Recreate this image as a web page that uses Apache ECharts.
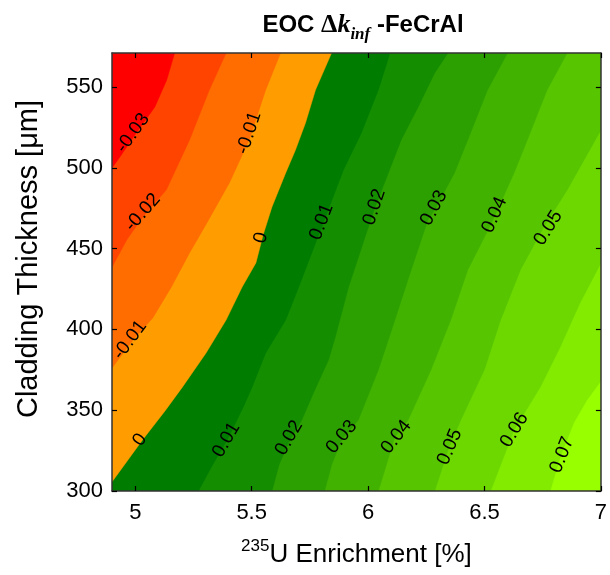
<!DOCTYPE html>
<html><head><meta charset="utf-8">
<script src="https://cdn.jsdelivr.net/npm/echarts@6/dist/echarts.min.js"></script>
<style>html,body{margin:0;padding:0;background:#fff}#c{width:610px;height:575px}</style>
</head><body><div id="c"></div><script>
// ---- data ----
const xRange = [4.9, 7];
const yRange = [300, 571];
const xTicks = [5, 5.5, 6, 6.5, 7];
const yTicks = [300, 350, 400, 450, 500, 550];
const levels = [-0.03, -0.02, -0.01, 0, 0.01, 0.02, 0.03, 0.04, 0.05, 0.06, 0.07];
// band colours: below -0.03, then each band up to above 0.07
const bandColors = ['#ff0000', '#ff4400', '#ff6c00', '#ff9d00', '#007c00', '#158d00', '#2ca000',
  '#42b200', '#57c500', '#6cd800', '#82eb00', '#98ff00'];
// contour lines (enrichment %, thickness um), from top/right edge to left/bottom edge
const cM003 = [[5.169,571],[5.135,554.3],[5.084,537.6],[4.998,520.3],[4.934,506.7],[4.900,499.9]];
const cM002 = [[5.390,571],[5.318,548.1],[5.233,517.2],[5.133,486.3],[5.032,469.6],[4.963,455.3],[4.900,438.6]];
const cM001 = [[5.624,571],[5.560,548.1],[5.489,517.2],[5.404,490.6],[5.310,466.5],[5.233,447.3],[5.155,426.2],[5.075,407.0],[4.990,393.4],[4.900,376.1]];
const c000 = [[5.843,571],[5.774,548.1],[5.731,527.7],[5.688,511.0],[5.646,496.8],[5.587,475.7],[5.549,458.4],[5.518,441.1],[5.459,426.2],[5.390,405.8],[5.304,385.4],[5.203,364.4],[5.130,350],[5.031,331.6],[4.906,306.8],[4.900,305.8]];
const c001 = [[6.094,571],[6.044,548.1],[5.971,521.5],[5.894,498.6],[5.809,466.5],[5.758,447.3],[5.702,426.2],[5.646,405.8],[5.560,385.4],[5.502,364.4],[5.468,353.2],[5.395,331.6],[5.327,314.9],[5.271,300]];
const c002 = [[6.343,571],[6.286,558.7],[6.215,537.6],[6.142,517.2],[6.087,496.8],[6.030,475.7],[5.987,457.2],[5.916,426.2],[5.859,395.3],[5.830,381.1],[5.771,362.5],[5.715,343.9],[5.660,330.3],[5.617,316.1],[5.587,300]];
const c003 = [[6.599,571],[6.513,548.1],[6.428,517.2],[6.371,496.8],[6.286,473.9],[6.257,467.7],[6.185,436.8],[6.115,405.8],[6.044,374.9],[5.958,343.9],[5.886,331.6],[5.843,316.1],[5.813,300]];
const c004 = [[6.855,571],[6.769,548.1],[6.684,517.2],[6.627,496.8],[6.542,469.6],[6.526,464.6],[6.428,436.8],[6.355,405.8],[6.270,374.9],[6.172,343.9],[6.115,333.4],[6.044,300]];
const c005 = [[7.0,523.4],[6.855,486.3],[6.752,462.7],[6.654,436.8],[6.569,405.8],[6.499,374.9],[6.398,343.9],[6.343,325.4],[6.286,300]];
const c006 = [[7.0,441.1],[6.910,416.3],[6.825,389.1],[6.740,364.4],[6.627,337.7],[6.526,300]];
const c007 = [[7.0,368.1],[6.940,356.3],[6.883,342.1],[6.825,321],[6.782,300]];
const contourLines = [cM003, cM002, cM001, c000, c001, c002, c003, c004, c005, c006, c007];
// contour labels: position and level index
const labelX = [4.990, 5.489, 5.032, 5.540, 5.800, 6.027, 6.283, 6.543, 6.774, 4.977, 5.020, 5.391, 5.660, 5.886, 6.121, 6.351, 6.629, 6.833];
const labelY = [521.5, 521.5, 472.3, 456.6, 466.5, 475.7, 475.1, 470.8, 462.7, 393.4, 331.6, 331.6, 332.8, 333.4, 333.4, 327.2, 337.7, 322.3];
const labelLevel = [0, 2, 1, 3, 4, 5, 6, 7, 8, 2, 3, 4, 5, 6, 7, 8, 9, 10];

// ---- chart ----
const FONT = "'Liberation Sans', Arial, sans-serif";
const chart = echarts.init(document.getElementById('c'), null, {renderer: 'canvas'});

// fill order: whole plot (top band), then levels from highest to lowest
const fillData = [[xRange[0], yRange[0], -1]];
for (let li = levels.length - 1; li >= 0; li--) fillData.push([xRange[0], yRange[0], li]);

function fillItem(params, api) {
  const li = api.value(2);
  let pts, color;
  if (li < 0) {
    pts = [[xRange[0], yRange[0]], [xRange[1], yRange[0]], [xRange[1], yRange[1]], [xRange[0], yRange[1]]];
    color = bandColors[bandColors.length - 1];
  } else {
    const line = contourLines[li];
    const start = line[0], end = line[line.length - 1];
    pts = line.slice();
    if (end[1] <= yRange[0] + 1e-9) pts.push([xRange[0], yRange[0]]);
    pts.push([xRange[0], yRange[1]]);
    if (start[0] >= xRange[1] - 1e-9) pts.push([xRange[1], yRange[1]]);
    color = bandColors[li];
  }
  return {type: 'polygon', shape: {points: pts.map(p => api.coord(p))},
          style: {fill: color, stroke: color, lineWidth: 0.5}};
}

function labelItem(params, api) {
  const li = api.value(2);
  const p = api.coord([api.value(0), api.value(1)]);
  const line = contourLines[li].map(q => api.coord(q));
  let best = Infinity, rot = 0;
  for (let k = 0; k < line.length - 1; k++) {
    const a = line[k], b = line[k + 1];
    const dx = b[0] - a[0], dy = b[1] - a[1];
    const t = Math.max(0, Math.min(1, ((p[0] - a[0]) * dx + (p[1] - a[1]) * dy) / (dx * dx + dy * dy)));
    const cx = a[0] + t * dx, cy = a[1] + t * dy;
    const d = (p[0] - cx) ** 2 + (p[1] - cy) ** 2;
    if (d < best) { best = d; rot = Math.atan2(-dy, dx); }
  }
  if (rot > Math.PI / 2) rot -= Math.PI;
  if (rot < -Math.PI / 2) rot += Math.PI;
  return {type: 'text', x: p[0], y: p[1], rotation: rot,
          style: {text: String(levels[li]), fontSize: 19, fontFamily: FONT, fill: '#000',
                  align: 'center', verticalAlign: 'middle'}};
}

const axisLineStyle = {color: '#333', width: 1.5};
const baseX = {type: 'value', min: xRange[0], max: xRange[1], splitLine: {show: false}, z: 10,
  axisLine: {show: true, onZero: false, lineStyle: axisLineStyle},
  axisTick: {show: true, inside: true, length: 5, customValues: xTicks, lineStyle: {color: '#000', width: 1.2}}};
const baseY = {type: 'value', min: yRange[0], max: yRange[1], splitLine: {show: false}, z: 10,
  axisLine: {show: true, onZero: false, lineStyle: axisLineStyle},
  axisTick: {show: true, inside: true, length: 5, customValues: yTicks, lineStyle: {color: '#000', width: 1.2}}};

chart.setOption({
  animation: false,
  backgroundColor: '#fff',
  title: {
    text: '{b|EOC }{d|Δ}{k|k}{s|inf}{b| -FeCrAl}',
    left: 358, top: 2, textAlign: 'center',
    textStyle: {rich: {
      b: {fontFamily: FONT, fontWeight: 'bold', fontSize: 24, color: '#000', lineHeight: 36},
      d: {fontFamily: "'Liberation Serif', serif", fontSize: 26, color: '#000', lineHeight: 36},
      k: {fontFamily: "'Liberation Serif', serif", fontStyle: 'italic', fontSize: 26, color: '#000', lineHeight: 36},
      s: {fontFamily: "'Liberation Serif', serif", fontStyle: 'italic', fontSize: 17, color: '#000', lineHeight: 17, verticalAlign: 'bottom'}
    }}
  },
  grid: {left: 112, top: 53, right: 6, bottom: 84, containLabel: false},
  xAxis: [
    Object.assign({}, baseX, {position: 'bottom',
      axisLabel: {customValues: xTicks, fontSize: 22, fontFamily: FONT, color: '#000', margin: 11},
      name: '{sup|235}{n|U Enrichment [%]}', nameLocation: 'middle', nameGap: 47,
      nameTextStyle: {rich: {
        sup: {fontFamily: FONT, fontSize: 17, color: '#000', lineHeight: 17, verticalAlign: 'top'},
        n: {fontFamily: FONT, fontSize: 26, color: '#000', lineHeight: 34}
      }}}),
    Object.assign({}, baseX, {position: 'top', axisLabel: {show: false}})
  ],
  yAxis: [
    Object.assign({}, baseY, {position: 'left',
      axisLabel: {customValues: yTicks, fontSize: 22, fontFamily: FONT, color: '#000', margin: 9},
      name: 'Cladding Thickness [μm]', nameLocation: 'middle', nameGap: 69, nameRotate: 90,
      nameTextStyle: {fontFamily: FONT, fontSize: 29, color: '#000', padding: [0, 0, 0, 26]}}),
    Object.assign({}, baseY, {position: 'right', axisLabel: {show: false}})
  ],
  series: [
    {type: 'custom', renderItem: fillItem, data: fillData, clip: true, silent: true, z: 2},
    {type: 'custom', renderItem: labelItem, clip: true, silent: true, z: 5,
     data: labelX.map((x, k) => [x, labelY[k], labelLevel[k]])}
  ]
});
</script></body></html>
